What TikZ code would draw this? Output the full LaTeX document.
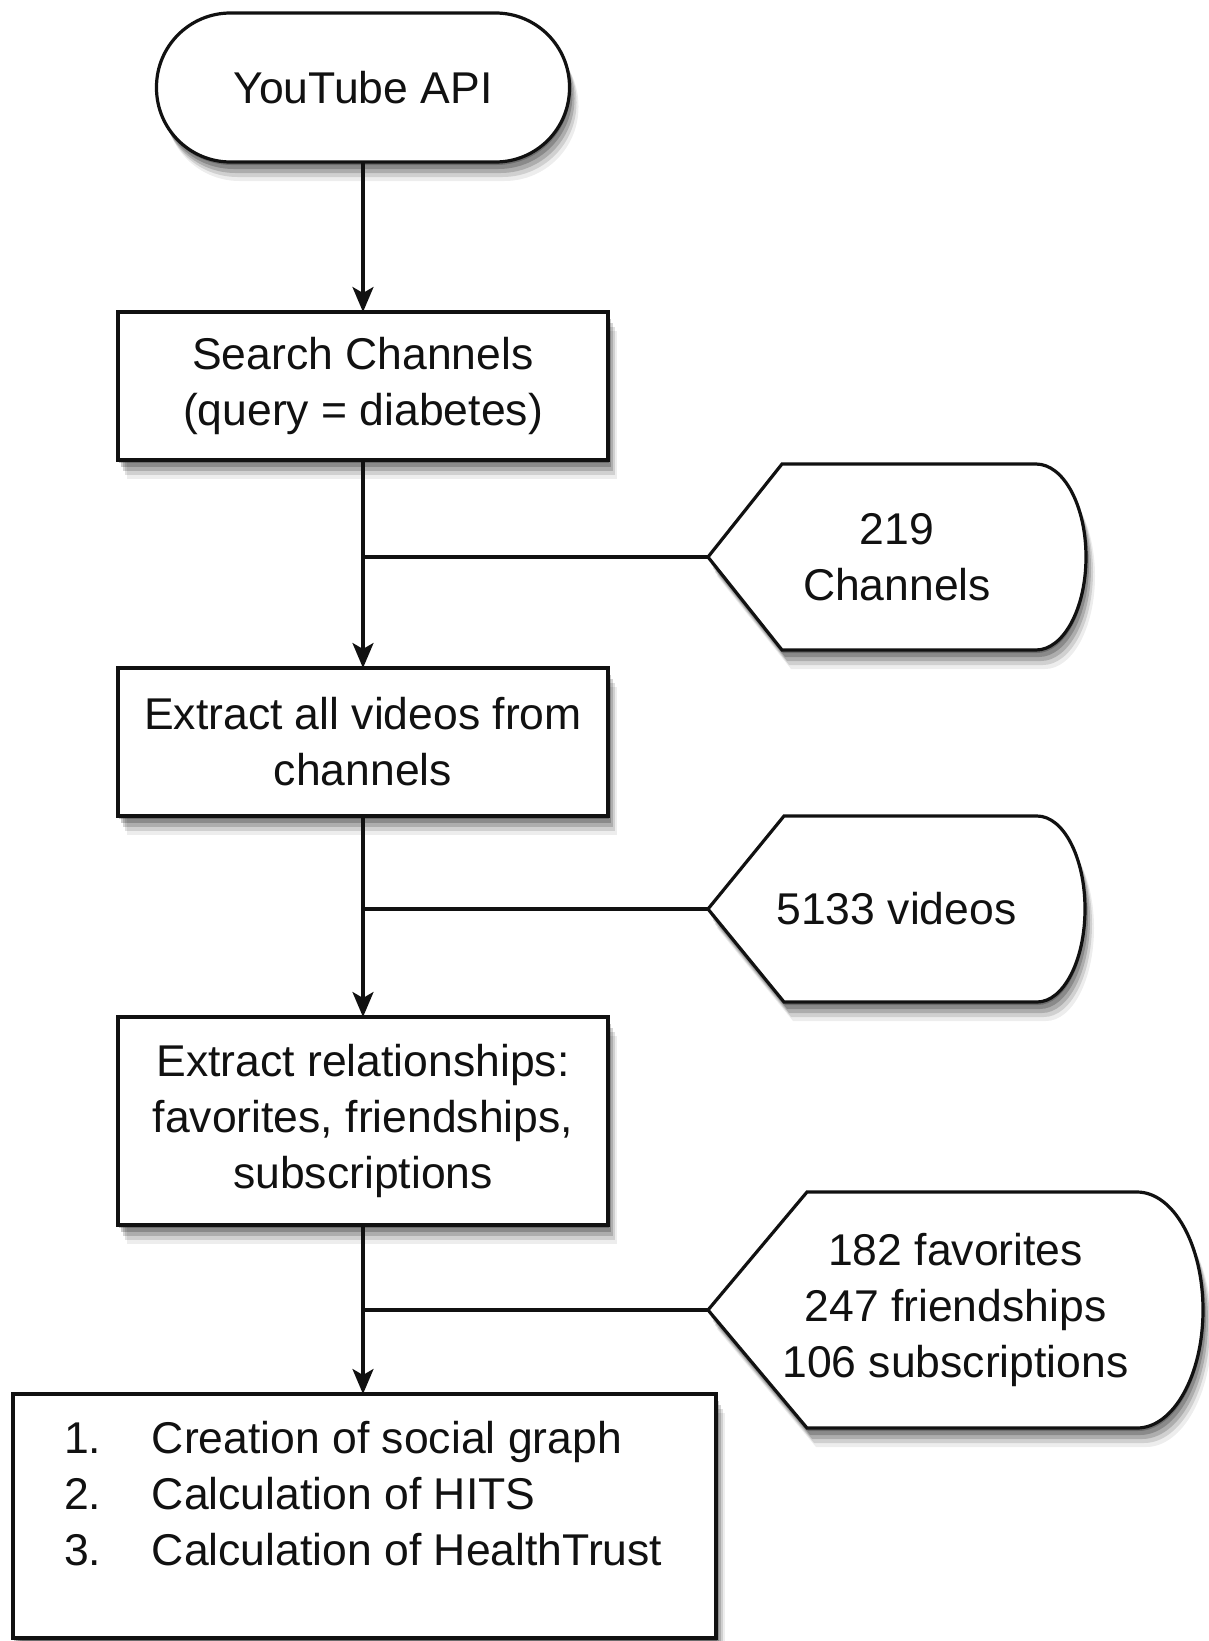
\documentclass[tikz,border=0pt]{standalone}
\usepackage{fontspec}
\setmainfont{Liberation Sans}
\usetikzlibrary{arrows.meta,shadows,backgrounds}
\definecolor{ink}{HTML}{111111}
\tikzset{
  softshadow/.style={
    drop shadow={shadow xshift=1pt,shadow yshift=-3pt,opacity=.22,fill=black},
    drop shadow={shadow xshift=3pt,shadow yshift=-7pt,opacity=.2,fill=black},
    drop shadow={shadow xshift=5pt,shadow yshift=-11pt,opacity=.17,fill=black},
    drop shadow={shadow xshift=7pt,shadow yshift=-15pt,opacity=.12,fill=black},
    drop shadow={shadow xshift=9pt,shadow yshift=-19pt,opacity=.07,fill=black}},
  txt/.style={text=ink, font=\fontsize{44.5}{56}\selectfont, align=center, inner sep=0pt, outer sep=0pt},
  base/.style={txt, draw=ink, line width=3.2pt, fill=white},
  term/.style={base, softshadow, rounded corners=74pt, minimum width=413pt, minimum height=149pt},
  procbox/.style={base, softshadow, minimum width=490pt, minimum height=148pt},
  dispshape/.style={draw=ink, line width=3.2pt, fill=white, softshadow, line join=miter},
  conn/.style={draw=ink, line width=3.2pt},
  arr/.style={conn, -{Stealth[length=25pt,width=21pt,inset=6pt]}}
}
\newcommand\dispoutline[4]{%
  \path[dispshape] (#1.west) -- ([xshift=#2]#1.north west) -- ([xshift=-#3]#1.north east)
    arc[start angle=90,end angle=-90,x radius=#3,y radius=#4]
    -- ([xshift=#2]#1.south west) -- cycle;}
\begin{document}
\begin{tikzpicture}[x=1pt,y=1pt]
\useasboundingbox (0,0) rectangle (1208,-1641);
% main column
\node[term] (api) at (363,-87.5) {YouTube API};
\node[procbox] (search) at (363,-386) {Search Channels\\(query = diabetes)};
\node[procbox] (videos) at (363,-742) {Extract all videos from\\channels};
\node[procbox, minimum height=208pt] (rel) at (363,-1121) {Extract relationships:\\favorites, friendships,\\subscriptions};
\node[base, softshadow, minimum width=703pt, minimum height=244pt] (final) at (364.5,-1516) {};
\node[txt, anchor=base west] (steps) at (64,-1453) {\begin{tabular}[t]{@{}l@{}}\makebox[88pt][l]{1.}Creation of social graph\\
\makebox[88pt][l]{2.}Calculation of HITS\\
\makebox[88pt][l]{3.}Calculation of HealthTrust\end{tabular}};
% result displays
\node[txt, minimum width=378pt, minimum height=186pt] (d1) at (897,-557) {219\\Channels};
\node[txt, minimum width=377pt, minimum height=186pt] (d2) at (896.5,-909) {5133 videos};
\node[txt, minimum width=495pt, minimum height=236pt] (d3) at (955.5,-1310) {182 favorites\\247 friendships\\106 subscriptions};
\begin{pgfonlayer}{background}
\dispoutline{d1}{74pt}{50pt}{93pt}
\dispoutline{d2}{76pt}{48pt}{93pt}
\dispoutline{d3}{99pt}{66pt}{118pt}
\end{pgfonlayer}
% connectors
\draw[arr] (api.south) -- (search.north);
\draw[arr] (search.south) -- (videos.north);
\draw[arr] (videos.south) -- (rel.north);
\draw[arr] (rel.south) -- (rel.south |- final.north);
\draw[conn] (d1.west) -- (d1.west -| search.south);
\draw[conn] (d2.west) -- (d2.west -| videos.south);
\draw[conn] (d3.west) -- (d3.west -| rel.south);
\end{tikzpicture}
\end{document}
